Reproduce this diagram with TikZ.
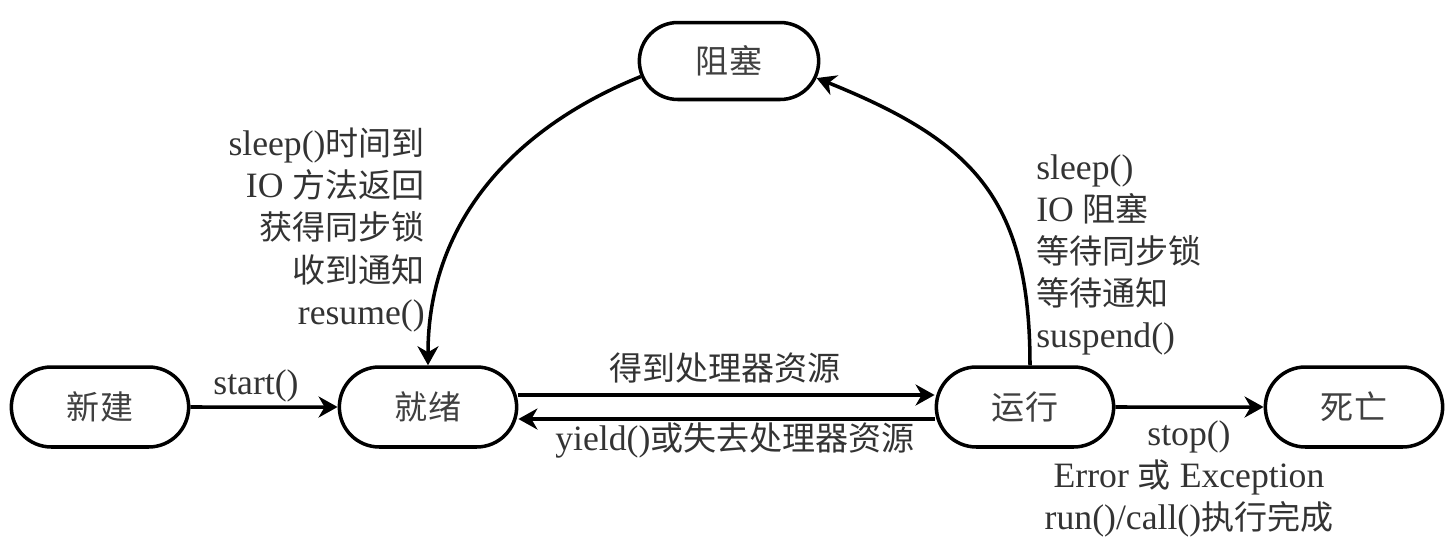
\documentclass[tikz,border=0pt]{standalone}
\usepackage{fontspec}
\setmainfont{Liberation Serif}[Scale=1.08]
\newfontfamily\cjk{Noto Sans CJK SC}
\newcommand{\zh}[1]{{\cjk #1}}
\usetikzlibrary{shapes.misc,arrows.meta}

\begin{document}
\begin{tikzpicture}[x=0.02cm, y=-0.02cm,
        font=\fontsize{18.8}{24}\selectfont,
        state/.style={rounded rectangle, draw, line width=2pt, minimum width=3.8cm, minimum height=1.6cm, text=black!75},
        lbl/.style={inner sep=0pt, text=black!80},
        arr/.style={line width=2pt, -{Stealth[length=0.38cm, width=0.42cm, inset=0.12cm]}}]
        \useasboundingbox (0,0) rectangle (1451,545);
        \def\gap{0.24cm}

        \node[state] (new) at (100,407) {\zh{新建}};
        \node[state] (ready) at (428,407) {\zh{就绪}};
        \node[state, minimum width=3.84cm, minimum height=1.54cm] (blocked) at (729,61) {\zh{阻塞}};
        \node[state] (run) at (1025,407) {\zh{运行}};
        \node[state] (dead) at (1354,407) {\zh{死亡}};

        \draw[arr] (new) -- (ready);
        \draw[arr] ([yshift=\gap]ready.east) -- ([yshift=\gap]run.west);
        \draw[arr] ([yshift=-\gap]run.west) -- ([yshift=-\gap]ready.east);
        \draw[arr] (run) -- (dead);
        \draw[arr] ([xshift=0.1cm]run.north) to[out=90, in=-22, looseness=1.2] (blocked.-11);
        \draw[arr] (blocked.190) to[out=202, in=90] (ready.north);

        \node[lbl] (startlbl) at (256,386) {start()};
        \node[lbl] (getlbl) at (725,368) {\zh{得到处理器资源}};
        \node[lbl] (yieldlbl) at (735,440) {yield()\zh{或失去处理器资源}};
        \node[lbl, align=right, anchor=east] (wakelbl) at (425,230)
            {sleep()\zh{时间到}\\IO \zh{方法返回}\\\zh{获得同步锁}\\\zh{收到通知}\\resume()};
        \node[lbl, align=left, anchor=west] (waitlbl) at (1036,255)
            {sleep()\\IO \zh{阻塞}\\\zh{等待同步锁}\\\zh{等待通知}\\suspend()};
        \node[lbl, align=center] (endlbl) at (1189,479)
            {stop()\\Error \zh{或} Exception\\run()/call()\zh{执行完成}};
    \end{tikzpicture}
\end{document}
